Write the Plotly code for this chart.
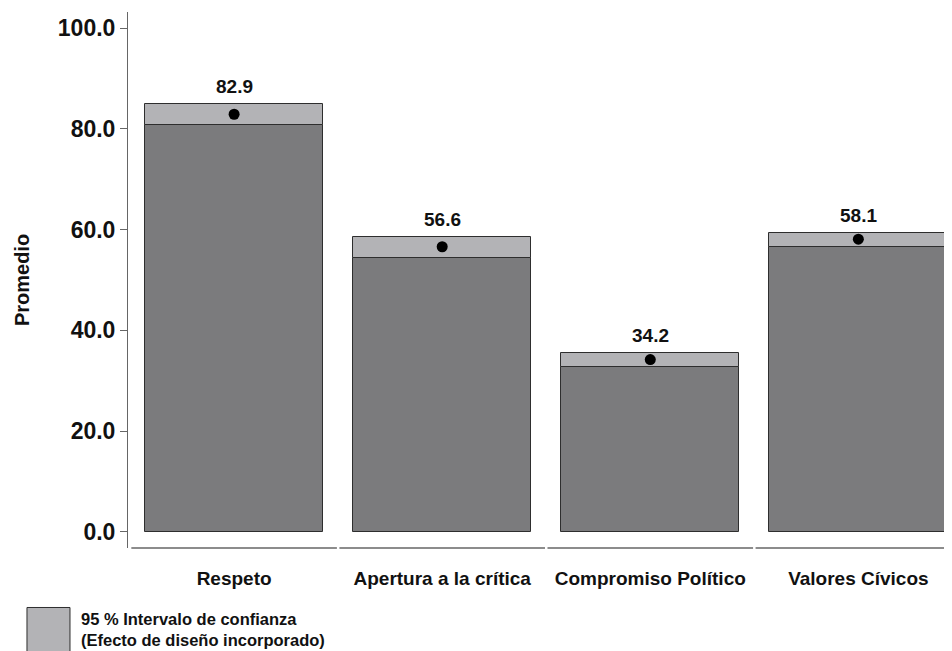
import plotly.graph_objects as go

categories = ["Respeto", "Apertura a la crítica", "Compromiso Político", "Valores Cívicos"]
means = [82.9, 56.6, 34.2, 58.1]
ci_lower = [80.7, 54.3, 32.8, 56.6]
ci_upper = [84.9, 58.5, 35.5, 59.3]
y_ticks = [0, 20, 40, 60, 80, 100]
legend_lines = ["95 % Intervalo de confianza", "(Efecto de diseño incorporado)"]

FONT = "Liberation Sans, Arial, sans-serif"
DARK = "#7b7b7d"
LIGHT = "#b3b3b6"
EDGE = "#2e2e2e"
TXT = "#111111"

fig = go.Figure()

# lower (dark) portion: 0 -> lower CI
fig.add_trace(go.Bar(
    x=categories, y=ci_lower, base=0, width=0.855,
    marker=dict(color=DARK, line=dict(color=EDGE, width=1)),
    hoverinfo="skip", showlegend=False,
))
# CI portion (light): lower -> upper
fig.add_trace(go.Bar(
    x=categories, y=[u - l for u, l in zip(ci_upper, ci_lower)], base=ci_lower, width=0.855,
    marker=dict(color=LIGHT, line=dict(color=EDGE, width=1)),
    hoverinfo="skip", showlegend=False,
))
# mean dots
fig.add_trace(go.Scatter(
    x=categories, y=means, mode="markers",
    marker=dict(color="black", size=11),
    hoverinfo="skip", showlegend=False,
))

# value labels
for c, m, u in zip(categories, means, ci_upper):
    fig.add_annotation(x=c, y=u, text=f"{m:.1f}", showarrow=False,
                       yanchor="bottom", yshift=5,
                       font=dict(family=FONT, size=19, color=TXT, weight="bold"))

# segmented x-axis baseline
for i in range(len(categories)):
    fig.add_shape(type="line", xref="x", yref="paper",
                  x0=i - 0.5 + 0.006, x1=i + 0.5 - 0.006, y0=0, y1=0,
                  line=dict(color="#666", width=1.5))

# legend box + text
fig.add_shape(type="rect", xref="paper", yref="paper",
              x0=-0.1226, x1=-0.0704, y0=-0.111, y1=-0.22,
              fillcolor=LIGHT, line=dict(color=EDGE, width=1))
fig.add_annotation(xref="paper", yref="paper", x=-0.060, y=-0.112,
                   xanchor="left", yanchor="top", align="left", showarrow=False,
                   text="<br>".join(legend_lines),
                   font=dict(family=FONT, size=16.5, color=TXT, weight="bold"))

fig.update_layout(
    width=944, height=643,
    margin=dict(l=120, r=0, t=4, b=103),
    paper_bgcolor="white", plot_bgcolor="white",
    barmode="overlay", bargap=0,
    font=dict(family=FONT, color=TXT),
    xaxis=dict(range=[-0.51, 3.45], showline=False, showgrid=False, zeroline=False,
               ticks="", ticklabelstandoff=17,
               tickfont=dict(family=FONT, size=19, color=TXT, weight="bold")),
    yaxis=dict(range=[-3.2, 103.2], tickvals=y_ticks, tickformat=".1f",
               showline=True, linecolor="#666", linewidth=1,
               ticks="outside", ticklen=7, tickcolor="#666",
               showgrid=False, zeroline=False,
               tickfont=dict(family=FONT, size=23, color=TXT, weight="bold"),
               title=dict(text="Promedio", standoff=22,
                          font=dict(family=FONT, size=20, color=TXT, weight="bold"))),
)

fig.write_html("out.html")
